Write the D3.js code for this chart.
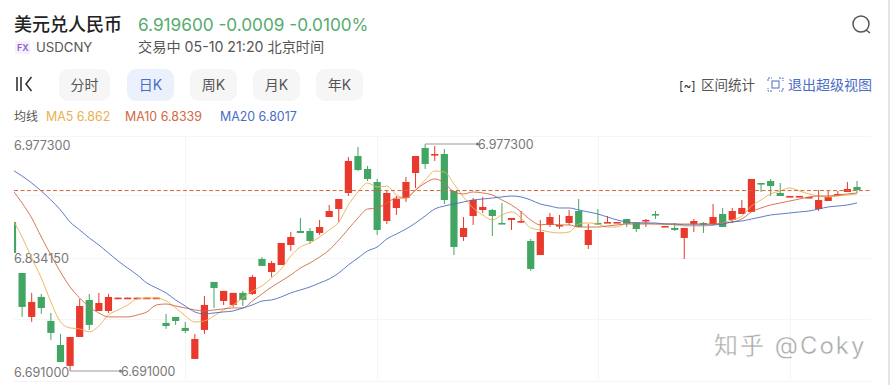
<!DOCTYPE html>
<html>
<head>
<meta charset="utf-8">
<script src="https://cdn.jsdelivr.net/npm/d3@7"></script>
<style>
  html, body { margin: 0; padding: 0; background: #fff; overflow: hidden; }
  text { font-family: Inter, "Noto Sans CJK SC", sans-serif; }
</style>
</head>
<body>
<svg id="chart" width="890" height="385"></svg>
<script>
// daily candles
const opens = [6.8789,6.8146,6.7592,6.7844,6.7541,6.7238,6.6974,6.7339,6.7806,6.7667,6.7667,6.7825,6.7825,6.7825,6.7825,6.7825,
  6.7516,6.7592,6.7453,6.7062,6.7428,6.8033,6.7793,6.7743,6.7895,6.7882,6.8323,6.8159,6.8247,6.8499,6.8676,6.8676,6.8651,6.8852,6.8953,
  6.9155,6.9622,6.9458,6.9294,6.8802,6.8966,6.9092,6.9407,6.9723,6.9634,6.9647,6.9180,6.8600,6.8865,6.8941,6.8941,6.8777,6.8815,6.8789,
  6.8550,6.8373,6.8752,6.8739,6.8777,6.8928,6.8499,6.8777,6.8777,6.8777,6.8827,6.8789,6.8802,6.8890,6.8726,6.8714,6.8588,6.8764,6.8777,
  6.8764,6.8890,6.8815,6.8890,6.8916,6.9281,6.9306,6.9155,6.9105,6.9105,6.9092,6.8953,6.9054,6.9130,6.9168,6.9231];
const highs = [6.8815,6.8146,6.7895,6.7882,6.7642,6.7377,6.7339,6.7819,6.7882,6.7895,6.7882,6.7835,6.7835,6.7835,6.7835,6.7835,
  6.7630,6.7592,6.7529,6.7377,6.7857,6.8033,6.7920,6.7895,6.7920,6.8121,6.8348,6.8298,6.8525,6.8663,6.8840,6.8714,6.8815,6.9004,6.9079,
  6.9609,6.9735,6.9496,6.9332,6.9180,6.9117,6.9357,6.9622,6.9773,6.9748,6.9710,6.9180,6.8852,6.9092,6.9105,6.8953,6.9029,6.8840,6.8928,
  6.8575,6.8815,6.8903,6.8878,6.8941,6.9079,6.8764,6.8953,6.8865,6.8789,6.8827,6.8789,6.8827,6.8928,6.8739,6.8777,6.8714,6.8827,6.8789,
  6.9016,6.8966,6.8966,6.9067,6.9332,6.9281,6.9332,6.9281,6.9117,6.9117,6.9105,6.9193,6.9193,6.9180,6.9294,6.9306];
const lows = [6.8373,6.7592,6.7529,6.7630,6.7301,6.7024,6.6910,6.7339,6.7428,6.7667,6.7642,6.7825,6.7825,6.7825,6.7825,6.7825,
  6.7441,6.7491,6.7390,6.7062,6.7377,6.7705,6.7743,6.7718,6.7730,6.7869,6.8235,6.8096,6.8247,6.8424,6.8651,6.8512,6.8626,6.8852,6.8789,
  6.9117,6.9432,6.9306,6.8626,6.8764,6.8878,6.9042,6.9218,6.9458,6.9559,6.9016,6.8373,6.8550,6.8752,6.8903,6.8613,6.8764,6.8689,6.8777,
  6.8171,6.8373,6.8726,6.8701,6.8752,6.8726,6.8449,6.8752,6.8777,6.8777,6.8726,6.8663,6.8726,6.8827,6.8726,6.8676,6.8323,6.8663,6.8651,
  6.8752,6.8726,6.8777,6.8890,6.8916,6.9168,6.9117,6.9117,6.9105,6.9105,6.9092,6.8928,6.9054,6.9117,6.9168,6.9155];
const closes = [6.8399,6.7718,6.7781,6.7705,6.7390,6.7024,6.7339,6.7730,6.7491,6.7768,6.7844,6.7835,6.7835,6.7835,6.7835,6.7835,
  6.7478,6.7541,6.7415,6.7314,6.7743,6.7957,6.7920,6.7895,6.7806,6.8096,6.8235,6.8272,6.8525,6.8600,6.8651,6.8550,6.8726,6.8928,6.9079,
  6.9559,6.9445,6.9332,6.8689,6.9155,6.9079,6.9294,6.9622,6.9521,6.9647,6.9067,6.8474,6.8714,6.9067,6.8979,6.8865,6.8764,6.8840,6.8802,
  6.8197,6.8663,6.8852,6.8752,6.8865,6.8726,6.8689,6.8764,6.8789,6.8789,6.8764,6.8701,6.8815,6.8878,6.8739,6.8689,6.8714,6.8802,6.8764,
  6.8852,6.8726,6.8928,6.8966,6.9332,6.9268,6.9243,6.9117,6.9117,6.9117,6.9105,6.9067,6.9105,6.9143,6.9206,6.9193];

// moving averages
const ma5 = [6.8827,6.8600,6.8335,6.8083,6.7781,6.7529,6.7453,6.7441,6.7403,6.7478,6.7617,6.7680,6.7743,6.7819,6.7831,6.7831,
  6.7793,6.7705,6.7605,6.7529,6.7541,6.7605,6.7680,6.7743,6.7831,6.7920,6.7983,6.8083,6.8197,6.8361,6.8474,6.8525,6.8600,6.8689,6.8789,
  6.9004,6.9168,6.9281,6.9231,6.9243,6.9130,6.9092,6.9193,6.9319,6.9432,6.9420,6.9269,6.9105,6.8966,6.8878,6.8815,6.8878,6.8916,6.8840,
  6.8714,6.8689,6.8663,6.8651,6.8663,6.8764,6.8777,6.8764,6.8726,6.8726,6.8777,6.8777,6.8777,6.8764,6.8764,6.8752,6.8739,6.8739,6.8739,
  6.8752,6.8777,6.8815,6.8865,6.8991,6.9067,6.9143,6.9180,6.9218,6.9180,6.9143,6.9117,6.9105,6.9117,6.9130,6.9143];
const ma10 = [6.9193,6.9029,6.8840,6.8600,6.8373,6.8159,6.7970,6.7831,6.7718,6.7642,6.7592,6.7592,6.7592,6.7617,6.7655,6.7743,
  6.7755,6.7730,6.7705,6.7680,6.7667,6.7680,6.7693,6.7705,6.7705,6.7793,6.7882,6.7970,6.8045,6.8121,6.8209,6.8272,6.8348,6.8436,6.8562,
  6.8701,6.8840,6.8953,6.8966,6.9029,6.9092,6.9092,6.9193,6.9281,6.9332,6.9281,6.9168,6.9143,6.9168,6.9155,6.9130,6.9067,6.9004,6.8916,
  6.8815,6.8752,6.8764,6.8752,6.8752,6.8726,6.8726,6.8726,6.8739,6.8752,6.8764,6.8764,6.8764,6.8764,6.8764,6.8764,6.8764,6.8764,6.8764,
  6.8764,6.8777,6.8789,6.8827,6.8916,6.8966,6.9004,6.9029,6.9054,6.9079,6.9105,6.9117,6.9117,6.9130,6.9143,6.9155];
const ma20 = [6.9445,6.9369,6.9281,6.9180,6.9067,6.8941,6.8789,6.8689,6.8588,6.8499,6.8399,6.8298,6.8209,6.8121,6.8020,6.7957,
  6.7895,6.7806,6.7730,6.7655,6.7630,6.7642,6.7655,6.7667,6.7705,6.7743,6.7793,6.7806,6.7844,6.7895,6.7932,6.7970,6.8020,6.8071,6.8146,
  6.8247,6.8335,6.8424,6.8474,6.8575,6.8638,6.8701,6.8777,6.8865,6.8953,6.8991,6.9016,6.9042,6.9067,6.9079,6.9092,6.9105,6.9117,6.9105,
  6.9067,6.9016,6.8991,6.8966,6.8966,6.8941,6.8916,6.8890,6.8852,6.8815,6.8789,6.8777,6.8777,6.8777,6.8764,6.8764,6.8752,6.8752,6.8752,
  6.8752,6.8764,6.8789,6.8802,6.8827,6.8852,6.8878,6.8890,6.8903,6.8916,6.8928,6.8953,6.8979,6.8991,6.9004,6.9029];

const lastPrice = 6.9196;
const maxPrice = 6.9773;
const minPrice = 6.691;
const axisLabels = [6.9773, 6.83415, 6.691];
const gridPrices = [6.988, 6.9125, 6.834, 6.756, 6.679];
const gridDays = [18, 38, 61, 81];
const periodLabels = ["分时", "日K", "周K", "月K", "年K"];
const maLabels = ["MA5 6.862", "MA10 6.8339", "MA20 6.8017"];

const red = "#e8392c", green = "#43a564", blue = "#4a6dc4";
const maColors = ["#eab04f", "#d0693f", "#4a6dc4"];

const svg = d3.select("#chart");

const x = d3.scaleLinear().domain([0, 88]).range([12.5, 857]);
const y = d3.scaleLinear().domain([minPrice, maxPrice]).range([371, 144]);

svg.append("defs").append("clipPath").attr("id", "plot")
  .append("rect").attr("x", 14).attr("y", 130).attr("width", 860).attr("height", 255);

// page edge
svg.append("rect").attr("x", 888).attr("y", 0).attr("width", 2).attr("height", 385).attr("fill", "#e6e6e6");

// grid
const grid = svg.append("g").attr("stroke", "#f5f5f6").attr("stroke-width", 1);
grid.selectAll(".h").data(gridPrices).enter().append("line")
  .attr("x1", 14).attr("x2", 871)
  .attr("y1", d => Math.round(y(d)) + 0.5).attr("y2", d => Math.round(y(d)) + 0.5);
grid.selectAll(".v").data(gridDays).enter().append("line")
  .attr("y1", 135).attr("y2", 380)
  .attr("x1", d => Math.round(x(d)) + 0.5).attr("x2", d => Math.round(x(d)) + 0.5);

// axis labels
svg.append("g").selectAll("text").data(axisLabels).enter().append("text")
  .attr("x", 14).attr("y", d => y(d) + 5.5)
  .attr("font-size", 12.6).attr("fill", "#777")
  .text(d => d.toFixed(6));

// candles
const plot = svg.append("g").attr("clip-path", "url(#plot)");
const days = d3.range(opens.length);
const candle = plot.selectAll("g").data(days).enter().append("g")
  .attr("fill", i => closes[i] >= opens[i] ? red : green)
  .attr("stroke", i => closes[i] >= opens[i] ? red : green);
candle.append("line")
  .attr("x1", i => x(i)).attr("x2", i => x(i))
  .attr("y1", i => y(highs[i])).attr("y2", i => y(lows[i]))
  .attr("stroke-width", 1);
candle.append("rect")
  .attr("x", i => x(i) - 3.6).attr("width", 7.2)
  .attr("y", i => y(Math.max(opens[i], closes[i])))
  .attr("height", i => Math.max(1.6, Math.abs(y(opens[i]) - y(closes[i]))))
  .attr("stroke", "none");

// MA lines
const line = d3.line().x((d, i) => x(i)).y(d => y(d)).curve(d3.curveMonotoneX);
[ma5, ma10, ma20].forEach((m, k) => {
  plot.append("path").attr("d", line(m)).attr("fill", "none")
    .attr("stroke", maColors[k]).attr("stroke-width", 0.9);
});

// last price
svg.append("line")
  .attr("x1", 14).attr("x2", 871)
  .attr("y1", y(lastPrice) + 0.8).attr("y2", y(lastPrice) + 0.8)
  .attr("stroke", "#d0693f").attr("stroke-width", 1).attr("stroke-dasharray", "4 2.5");

// max and min callouts
[[43, maxPrice, 478], [6, minPrice, 121]].forEach(([i, v, end]) => {
  const g = svg.append("g");
  g.append("line").attr("x1", x(i)).attr("x2", end).attr("y1", y(v)).attr("y2", y(v))
    .attr("stroke", "#9a9a9a").attr("stroke-width", 1.2);
  g.append("circle").attr("cx", end - 0.5).attr("cy", y(v)).attr("r", 1.5).attr("fill", "#777");
  g.append("text").attr("x", end).attr("y", y(v) + 4.5)
    .attr("font-size", 12.4).attr("fill", "#777").text(v.toFixed(6));
});

// header
svg.append("text").attr("x", 14).attr("y", 31).attr("font-size", 18).attr("font-weight", 500)
  .attr("fill", "#222").text("美元兑人民币");
svg.append("text").attr("x", 138).attr("y", 31).attr("font-size", 17.2)
  .attr("fill", "#55ab6e").text("6.919600 -0.0009 -0.0100%");
svg.append("rect").attr("x", 15).attr("y", 41).attr("width", 15).attr("height", 13).attr("rx", 2).attr("fill", "#f5f0fb");
svg.append("text").attr("x", 17).attr("y", 51).attr("font-size", 9).attr("font-weight", 600)
  .attr("fill", "#8a5fd0").text("FX");
svg.append("text").attr("x", 36).attr("y", 52).attr("font-size", 13.2).attr("fill", "#555").text("USDCNY");
svg.append("text").attr("x", 138).attr("y", 52).attr("font-size", 14.2).attr("fill", "#555").text("交易中 05-10 21:20 北京时间");

// search icon
svg.append("circle").attr("cx", 861).attr("cy", 24).attr("r", 8).attr("fill", "none").attr("stroke", "#555").attr("stroke-width", 1.5);
svg.append("line").attr("x1", 866).attr("y1", 30).attr("x2", 870).attr("y2", 33).attr("stroke", "#555").attr("stroke-width", 1.5);

// K icon
const kIcon = svg.append("g").attr("stroke", "#333").attr("stroke-width", 1.6).attr("fill", "none");
kIcon.append("line").attr("x1", 17).attr("x2", 17).attr("y1", 77).attr("y2", 91);
kIcon.append("line").attr("x1", 21).attr("x2", 21).attr("y1", 77).attr("y2", 91);
kIcon.append("path").attr("d", "M31.5 77 L26 84 L31.5 91");

// period buttons
const btnLeft = [59, 127, 190, 253, 316];
const btnWidth = [51, 47, 47, 47, 47];
const btn = svg.append("g").selectAll("g").data(periodLabels).enter().append("g");
btn.append("rect")
  .attr("x", (d, i) => btnLeft[i]).attr("y", 69)
  .attr("width", (d, i) => btnWidth[i]).attr("height", 32).attr("rx", 9)
  .attr("fill", (d, i) => i === 1 ? "#ebf1fc" : "#f6f6f7");
btn.append("text")
  .attr("x", (d, i) => btnLeft[i] + btnWidth[i] / 2).attr("y", 90)
  .attr("text-anchor", "middle").attr("font-size", 14)
  .attr("fill", (d, i) => i === 1 ? blue : "#555").text(d => d);

// range tools
svg.append("text").attr("x", 679).attr("y", 90).attr("font-size", 12).attr("fill", "#333").text("[~]");
svg.append("text").attr("x", 701).attr("y", 90).attr("font-size", 13.5).attr("fill", "#555").text("区间统计");
svg.append("rect").attr("x", 772).attr("y", 81).attr("width", 7).attr("height", 7).attr("fill", "none").attr("stroke", blue);
svg.append("path").attr("d", "M768 81v-3h4M779 78h4v3M783 88v3h-4M772 91h-4v-3").attr("fill", "none").attr("stroke", blue).attr("stroke-dasharray", "2 1");
svg.append("text").attr("x", 788).attr("y", 90).attr("font-size", 14).attr("fill", blue).text("退出超级视图");

// MA legend
svg.append("text").attr("x", 14).attr("y", 121).attr("font-size", 12).attr("fill", "#555").text("均线");
const maLeft = [46, 125, 220];
svg.append("g").selectAll("text").data(maLabels).enter().append("text")
  .attr("x", (d, i) => maLeft[i]).attr("y", 121).attr("font-size", 12.4)
  .attr("fill", (d, i) => maColors[i]).text(d => d);

// watermark
svg.append("text").attr("x", 714).attr("y", 354).attr("font-size", 24)
  .attr("fill", "#a8a8a8").attr("stroke", "#fff").attr("stroke-width", 0.4).attr("letter-spacing", 2).text("知乎 @Coky");
</script>
</body>
</html>
